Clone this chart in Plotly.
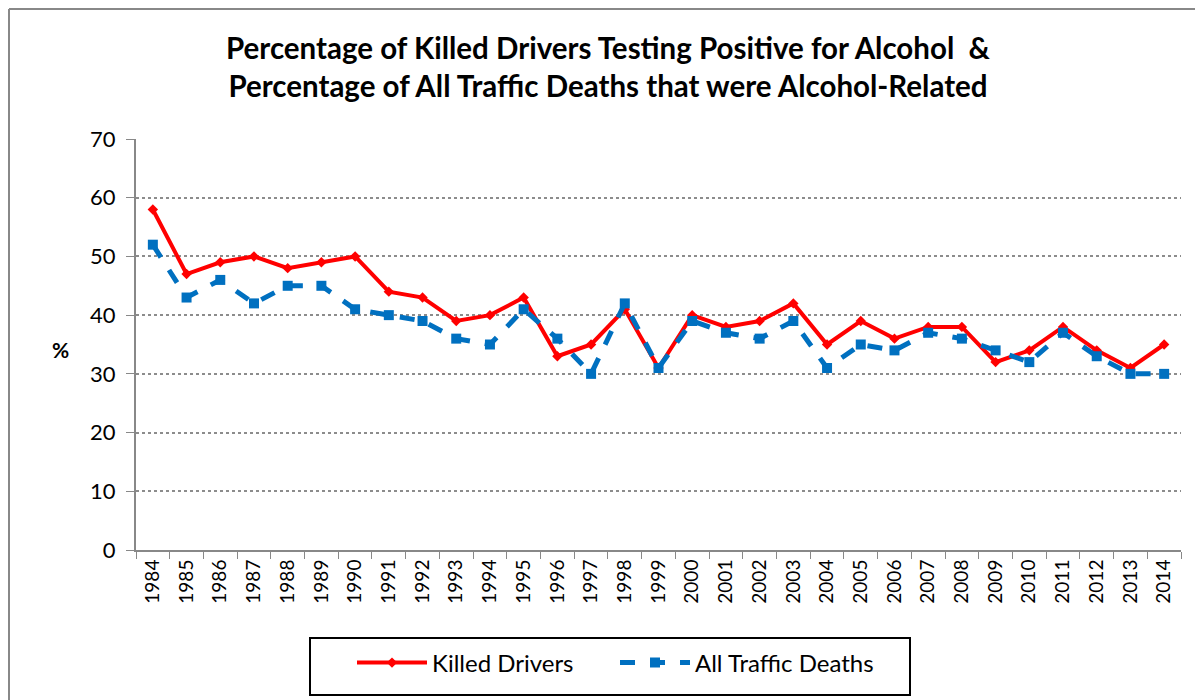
import plotly.graph_objects as go

years = [str(y) for y in range(1984, 2015)]
killed_drivers = [58, 47, 49, 50, 48, 49, 50, 44, 43, 39, 40, 43, 33, 35, 41, 31,
                  40, 38, 39, 42, 35, 39, 36, 38, 38, 32, 34, 38, 34, 31, 35]
all_traffic = [52, 43, 46, 42, 45, 45, 41, 40, 39, 36, 35, 41, 36, 30, 42, 31,
               39, 37, 36, 39, 31, 35, 34, 37, 36, 34, 32, 37, 33, 30, 30]
y_ticks = [0, 10, 20, 30, 40, 50, 60, 70]

FONT = "Lato, Open Sans, sans-serif"

fig = go.Figure()
fig.add_trace(go.Scatter(
    x=years, y=killed_drivers, name="Killed Drivers", mode="lines+markers",
    line=dict(color="#ff0000", width=4),
    marker=dict(symbol="diamond", size=8, color="#ff0000"),
))
fig.add_trace(go.Scatter(
    x=years, y=all_traffic, name="All Traffic Deaths", mode="lines+markers",
    line=dict(color="#0070c0", width=5, dash="dash"),
    marker=dict(symbol="square", size=10, color="#0070c0"),
))

# page body has an 8px margin; compensate so the plot lands where intended
OFF = 8
PL, PR, PT, PB = 136, 1181, 139, 550  # plot area in page pixels
W, H = 1203 - OFF, 700 - OFF
L, R, T, B = PL - OFF, 1203 - PR, PT - OFF, 700 - PB
pw, ph = PR - PL, PB - PT


def px(x):
    return (x - PL) / pw


def py(y):
    return (PB - y) / ph


fig.update_layout(
    width=W, height=H,
    margin=dict(l=L, r=R, t=T, b=B),
    paper_bgcolor="white", plot_bgcolor="white",
    font=dict(family=FONT, color="black"),
    xaxis=dict(
        type="category", tickson="boundaries", tickangle=-90,
        ticks="outside", ticklen=7, tickcolor="#888888",
        showline=True, linecolor="#888888", linewidth=2,
        showgrid=False, tickfont=dict(size=19), range=[-0.5, 30.5],
    ),
    yaxis=dict(
        range=[0, 70], tickvals=y_ticks, ticks="outside", ticklen=8,
        tickcolor="#888888", showline=True, linecolor="#888888", linewidth=2,
        showgrid=True, gridcolor="#8c8c8c", griddash="dot", gridwidth=1.5,
        tickfont=dict(size=22), zeroline=False, ticklabelstandoff=6,
    ),
    legend=dict(
        orientation="h", x=px(352), xanchor="left", y=py(663), yanchor="middle",
        borderwidth=0, bgcolor="rgba(0,0,0,0)", font=dict(size=24),
        entrywidth=178, itemwidth=70,
    ),
    showlegend=True,
)

fig.add_annotation(
    text="<b>Percentage of Killed Drivers Testing Positive for Alcohol  &<br>Percentage of All Traffic Deaths that were Alcohol-Related</b>",
    xref="paper", yref="paper", x=px(608), y=py(66.5), showarrow=False,
    xanchor="center", yanchor="middle", align="center",
    font=dict(size=29.5, family=FONT),
)

fig.add_annotation(
    text="<b>%</b>", xref="paper", yref="paper",
    x=px(60), y=py(349), showarrow=False,
    font=dict(size=21), xanchor="center", yanchor="middle",
)

# legend frame
fig.add_shape(
    type="rect", xref="paper", yref="paper",
    x0=px(310), x1=px(910), y0=py(695), y1=py(638),
    line=dict(color="black", width=2), layer="below",
)

# chart outer frame (only top and left edges fall inside the picture)
fig.add_shape(
    type="line", xref="paper", yref="paper",
    x0=px(9), x1=px(9), y0=py(700), y1=py(9),
    line=dict(color="#888888", width=2), layer="below",
)
fig.add_shape(
    type="line", xref="paper", yref="paper",
    x0=px(9), x1=px(1203), y0=py(9), y1=py(9),
    line=dict(color="#888888", width=2), layer="below",
)

fig.write_html("out.html")
